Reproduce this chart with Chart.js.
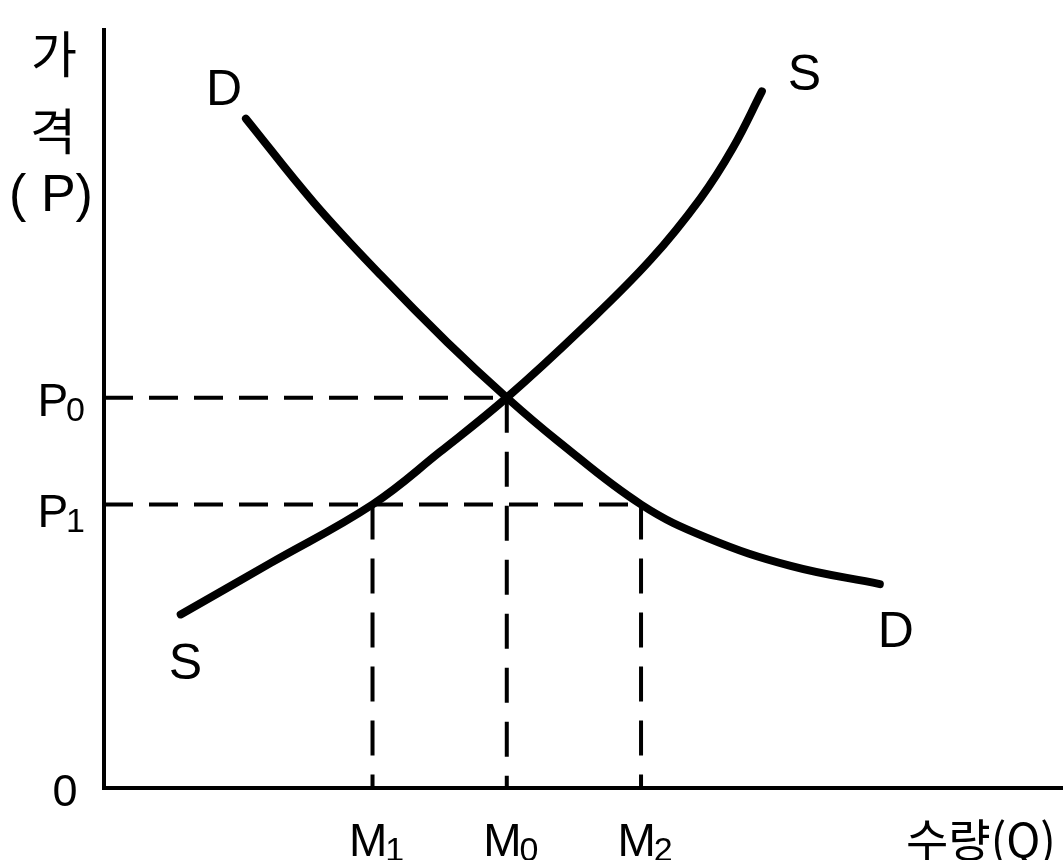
<!DOCTYPE html>
<html>
<head>
<meta charset="utf-8">
<script src="https://cdn.jsdelivr.net/npm/chart.js@4"></script>
<style>
  body { margin: 0; background: #fff; }
  canvas { display: block; }
</style>
</head>
<body>
<canvas id="sdChart" width="1063" height="860"></canvas>
<script>
// Demand / supply curve points (quantity, price)
const demandQ = [14.8, 21.9, 28.9, 35.8, 42, 47.3, 56, 62.9, 71.6, 80.9];
const demandP = [88.3, 77.2, 67.6, 58.8, 51.5, 45.8, 37.4, 33.0, 29.3, 26.9];
const supplyQ = [8, 17.4, 28, 35, 42, 50, 57, 62.2, 65.6, 68.6];
const supplyP = [22.9, 29.7, 37.4, 44.3, 51.5, 60.8, 69.7, 77.8, 84.5, 91.9];

// Marked levels
const priceLevels = [51.5, 37.4];          // P0, P1
const priceLabels = ['P', 'P'];
const priceSubs = ['0', '1'];
const qtyLevels = [28, 42, 56];            // M1, M0, M2
const qtyLabels = ['M', 'M', 'M'];
const qtySubs = ['1', '0', '2'];

const toPoints = (xs, ys) => xs.map((x, i) => ({ x: x, y: ys[i] }));

const guideStyle = {
    borderColor: '#000',
    borderWidth: 4,
    borderDash: [29, 16],
    pointRadius: 0,
    tension: 0,
    order: 2
};

// dashed guides: P0 to M0, P1 to M2, and drops from each M down to the axis
const guides = [
    { data: [{ x: 0, y: priceLevels[0] }, { x: qtyLevels[1], y: priceLevels[0] }] },
    { data: [{ x: 0, y: priceLevels[1] }, { x: qtyLevels[2], y: priceLevels[1] }] },
    { data: [{ x: qtyLevels[0], y: priceLevels[1] }, { x: qtyLevels[0], y: 0 }], borderDash: [35, 19] },
    { data: [{ x: qtyLevels[1], y: priceLevels[0] }, { x: qtyLevels[1], y: 0 }], borderDash: [35, 19] },
    { data: [{ x: qtyLevels[2], y: priceLevels[1] }, { x: qtyLevels[2], y: 0 }], borderDash: [35, 19] }
].map(g => Object.assign({}, guideStyle, g));

const curveStyle = {
    borderColor: '#000',
    borderWidth: 8,
    pointRadius: 0,
    tension: 0.4,
    borderCapStyle: 'round',
    borderJoinStyle: 'round',
    order: 1
};

const LATIN = '"Liberation Sans", Arial, sans-serif';
const HANGUL = '"Noto Sans CJK KR", sans-serif';

function subText(ctx, main, sub, x, y, size, align) {
    const subSize = Math.round(size * 0.74);
    ctx.font = size + 'px ' + LATIN;
    const w1 = ctx.measureText(main).width;
    ctx.font = subSize + 'px ' + LATIN;
    const w2 = ctx.measureText(sub).width;
    let left = x;
    if (align === 'right') left = x - w1 - w2;
    if (align === 'center') left = x - (w1 + w2) / 2;
    ctx.textAlign = 'left';
    ctx.textBaseline = 'alphabetic';
    ctx.font = size + 'px ' + LATIN;
    ctx.fillText(main, left, y);
    ctx.font = subSize + 'px ' + LATIN;
    ctx.fillText(sub, left + w1 - 2, y + 5);
}

const labelPlugin = {
    id: 'labels',
    afterDraw(chart) {
        const ctx = chart.ctx;
        const xs = chart.scales.x;
        const ys = chart.scales.y;
        const left = chart.chartArea.left;
        const bottom = chart.chartArea.bottom;
        ctx.save();
        ctx.fillStyle = '#000';

        // axis titles
        ctx.textAlign = 'center';
        ctx.textBaseline = 'middle';
        ctx.font = '50px ' + HANGUL;
        ctx.fillText('가', 54, 54);
        ctx.fillText('격', 53, 131);
        ctx.font = '52px ' + LATIN;
        ctx.fillText('( P)', 51, 197);
        ctx.font = '46px ' + HANGUL;
        ctx.textAlign = 'left';
        ctx.fillText('수량(Q)', 906, 840);

        // origin
        ctx.textAlign = 'center';
        ctx.textBaseline = 'alphabetic';
        ctx.font = '45px ' + LATIN;
        ctx.fillText('0', 65, bottom + 18);

        priceLevels.forEach((p, i) => {
            subText(ctx, priceLabels[i], priceSubs[i], left - 17, ys.getPixelForValue(p) + 18 + i * 4, 46, 'right');
        });
        qtyLevels.forEach((q, i) => {
            subText(ctx, qtyLabels[i], qtySubs[i], xs.getPixelForValue(q) + 5, bottom + 68, 46, 'center');
        });

        // curve end labels
        ctx.font = '50px ' + LATIN;
        ctx.textAlign = 'left';
        const dFirst = { x: xs.getPixelForValue(demandQ[0]), y: ys.getPixelForValue(demandP[0]) };
        const dLast = { x: xs.getPixelForValue(demandQ[demandQ.length - 1]), y: ys.getPixelForValue(demandP[demandP.length - 1]) };
        const sFirst = { x: xs.getPixelForValue(supplyQ[0]), y: ys.getPixelForValue(supplyP[0]) };
        const sLast = { x: xs.getPixelForValue(supplyQ[supplyQ.length - 1]), y: ys.getPixelForValue(supplyP[supplyP.length - 1]) };
        ctx.fillText('D', dFirst.x - 40, dFirst.y - 14);
        ctx.fillText('D', dLast.x - 2, dLast.y + 63);
        ctx.fillText('S', sFirst.x - 12, sFirst.y + 65);
        ctx.fillText('S', sLast.x + 26, sLast.y - 1);
        ctx.restore();
    }
};

const ctx = document.getElementById('sdChart').getContext('2d');
const sdChart = new Chart(ctx, {
    type: 'scatter',
    data: {
        datasets: guides.concat([
            Object.assign({ label: 'D', data: toPoints(demandQ, demandP) }, curveStyle),
            Object.assign({ label: 'S', data: toPoints(supplyQ, supplyP) }, curveStyle)
        ]).map(d => Object.assign({ showLine: true }, d))
    },
    options: {
        responsive: false,
        animation: false,
        layout: { padding: { left: 96, top: 30, right: 0, bottom: 64 } },
        plugins: {
            legend: { display: false },
            tooltip: { enabled: false }
        },
        scales: {
            x: {
                type: 'linear', min: 0, max: 100,
                grid: { display: false },
                ticks: { display: false },
                border: { display: true, color: '#000', width: 4 }
            },
            y: {
                type: 'linear', min: 0, max: 100,
                grid: { display: false },
                ticks: { display: false },
                border: { display: true, color: '#000', width: 4 }
            }
        }
    },
    plugins: [labelPlugin]
});
</script>
</body>
</html>
